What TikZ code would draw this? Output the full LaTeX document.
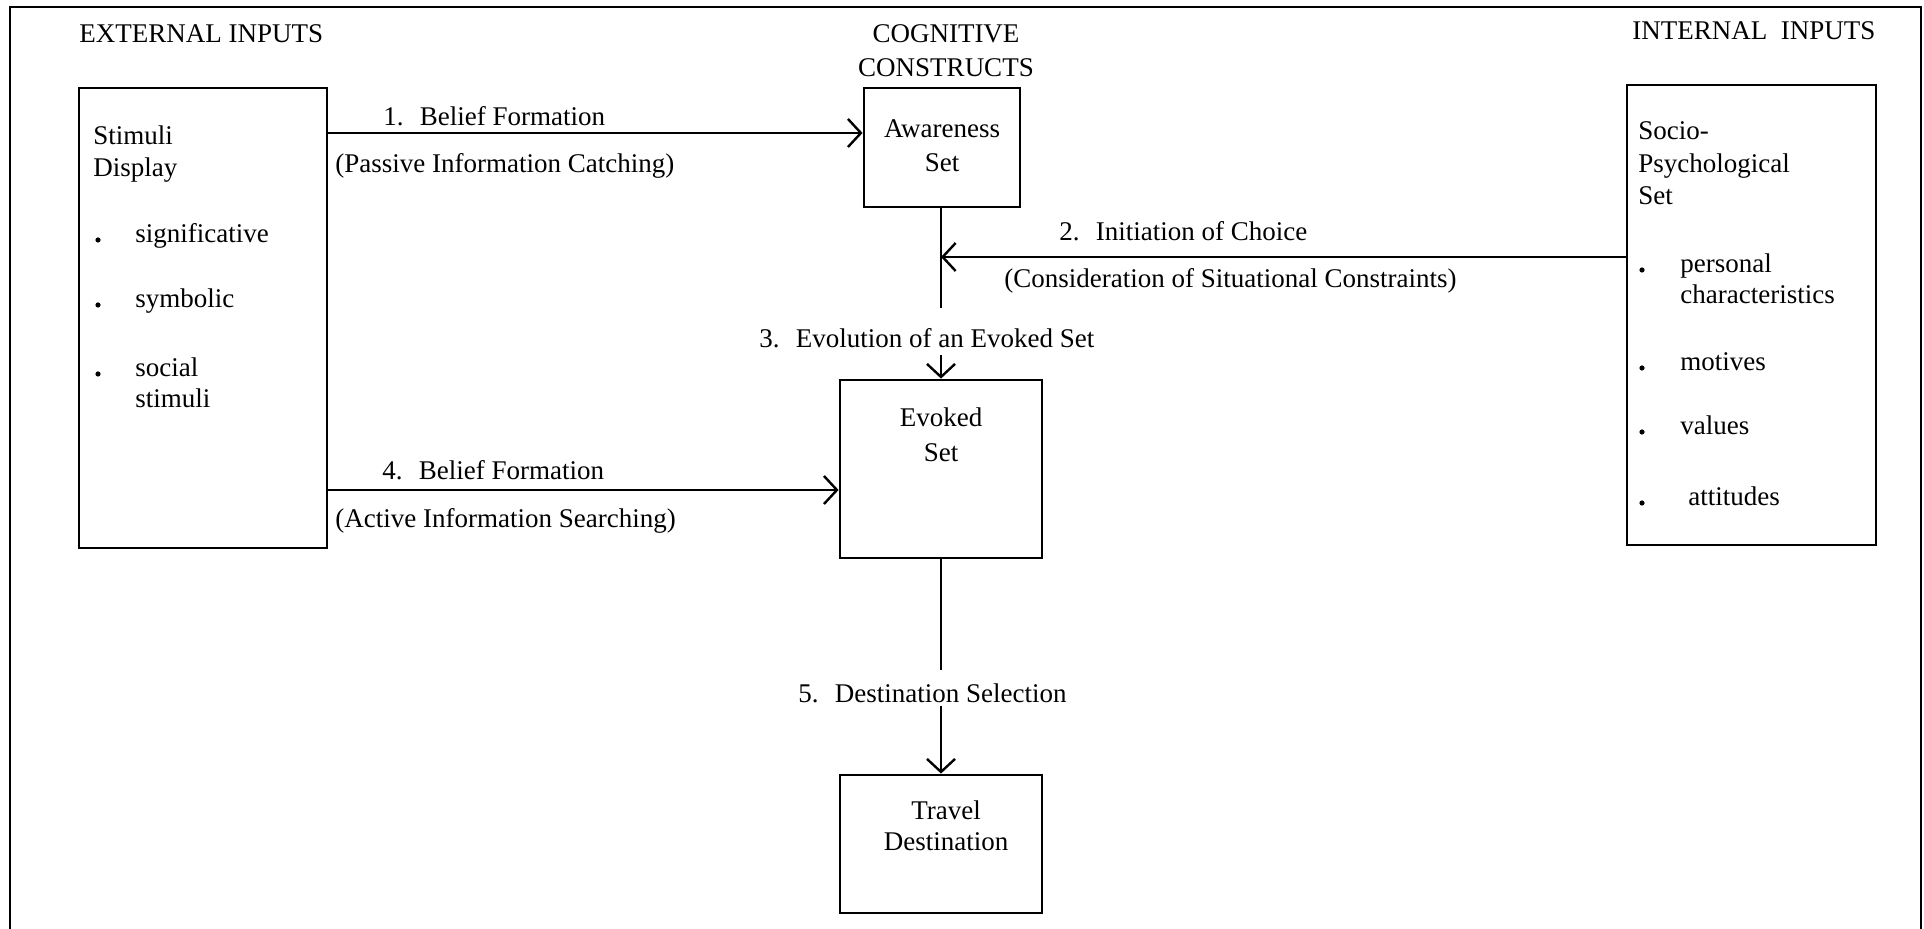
\documentclass[tikz,border=0pt]{standalone}
\usepackage{fontspec}
\setmainfont{Liberation Serif}
\usetikzlibrary{arrows.meta}
\newcommand\fsz{\fontsize{13.5}{16}\selectfont}
\tikzset{
  box/.style={draw, line width=1.4pt, inner sep=0pt},
  frameline/.style={line width=1.4pt},
  txt/.style={inner sep=0pt, anchor=base west, font=\fsz},
  ctxt/.style={inner sep=0pt, anchor=base, font=\fsz},
  conn/.style={line width=1.2pt},
  arr/.style={conn, -{Straight Barb[length=6.5pt,width=14pt,line width=1.2pt]}},
  bdot/.style={circle, fill, inner sep=0pt, minimum size=2.6pt}
}
\begin{document}
\begin{tikzpicture}[x=0.5pt,y=-0.5pt]
\useasboundingbox (0,0) rectangle (1924,929);
% outer frame
\draw[frameline] (10,929) -- (10,7) -- (1921,7) -- (1921,929);

% headings
\node[txt] (hext) at (79,43) {EXTERNAL INPUTS};
\node[ctxt] (hcog1) at (946,43) {COGNITIVE};
\node[ctxt] (hcog2) at (946,77) {CONSTRUCTS};
\node[txt] (hint) at (1632,40) {INTERNAL\hspace{0.5em}INPUTS};

% boxes
\node[box, minimum width=124pt, minimum height=230pt] (stim) at (203,318) {};
\node[box, minimum width=78pt, minimum height=59.5pt] (aware) at (942,147.5) {};
\node[box, minimum width=101pt, minimum height=89pt] (evoked) at (941,469) {};
\node[box, minimum width=101pt, minimum height=69pt] (travel) at (941,844) {};
\node[box, minimum width=124.5pt, minimum height=230pt] (socio) at (1751.5,315) {};

% stimuli box text
\node[txt] (st1) at (93,145) {Stimuli};
\node[txt] (st2) at (93,177) {Display};
\node[bdot] (sd1) at (98,240) {};
\node[txt] (si1) at (135,243) {significative};
\node[bdot] (sd2) at (98,305) {};
\node[txt] (si2) at (135,308) {symbolic};
\node[bdot] (sd3) at (98,374) {};
\node[txt] (si3) at (135,377) {social};
\node[txt] (si4) at (135,408) {stimuli};

% cognitive boxes text
\node[ctxt] (aw1) at (942,138) {Awareness};
\node[ctxt] (aw2) at (942,172) {Set};
\node[ctxt] (ev1) at (941,427) {Evoked};
\node[ctxt] (ev2) at (941,462) {Set};
\node[ctxt] (tr1) at (946,820) {Travel};
\node[ctxt] (tr2) at (946,851) {Destination};

% socio box text
\node[txt] (so1) at (1638,140) {Socio-};
\node[txt] (so2) at (1638,173) {Psychological};
\node[txt] (so3) at (1638,205) {Set};
\node[bdot] (pd1) at (1642,270) {};
\node[txt] (pi1) at (1680,273) {personal};
\node[txt] (pi2) at (1680,304) {characteristics};
\node[bdot] (pd2) at (1642,368) {};
\node[txt] (pi3) at (1680,371) {motives};
\node[bdot] (pd3) at (1642,432) {};
\node[txt] (pi4) at (1680,435) {values};
\node[bdot] (pd4) at (1642,503) {};
\node[txt] (pi5) at (1688,506) {attitudes};

% connector labels
\node[txt] (l1a) at (383,126) {1.\hspace{0.6em}Belief Formation};
\node[txt] (l1b) at (335,173) {(Passive Information Catching)};
\node[txt] (l4a) at (382,480) {4.\hspace{0.6em}Belief Formation};
\node[txt] (l4b) at (335,528) {(Active Information Searching)};
\node[txt] (l2a) at (1059,241) {2.\hspace{0.6em}Initiation of Choice};
\node[txt] (l2b) at (1004,288) {(Consideration of Situational Constraints)};
\node[txt] (l3) at (759,348) {3.\hspace{0.6em}Evolution of an Evoked Set};
\node[txt] (l5) at (798,703) {5.\hspace{0.6em}Destination Selection};

% helper coordinates
\coordinate (y1) at (0,133);
\coordinate (y2) at (0,257);
\coordinate (y4) at (0,490);
\coordinate (x3) at (941,0);
\coordinate (s3end) at (941,308);
\coordinate (s3start) at (941,355);
\coordinate (s5end) at (941,670);
\coordinate (s5start) at (941,706);

% connectors
\draw[arr] (stim.east |- y1) -- (aware.west |- y1);
\draw[arr] (stim.east |- y4) -- (evoked.west |- y4);
\draw[conn] (x3 |- aware.south) -- (s3end);
\draw[arr] (socio.west |- y2) -- (x3 |- y2);
\draw[arr] (s3start) -- (x3 |- evoked.north);
\draw[conn] (x3 |- evoked.south) -- (s5end);
\draw[arr] (s5start) -- (x3 |- travel.north);
\end{tikzpicture}
\end{document}
